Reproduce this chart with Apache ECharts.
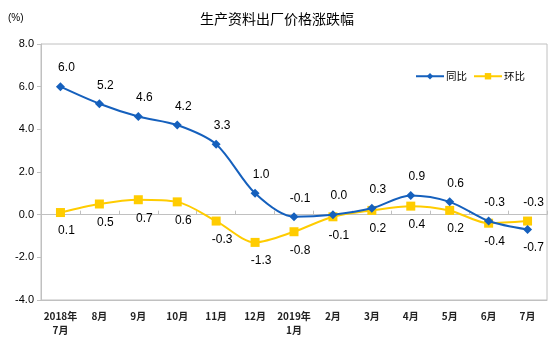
<!DOCTYPE html>
<html>
<head>
<meta charset="utf-8">
<script src="https://cdn.jsdelivr.net/npm/echarts@6/dist/echarts.min.js"></script>
<style>
  html, body { margin: 0; padding: 0; background: #fff; }
  #main { width: 554px; height: 353px; }
</style>
</head>
<body>
<div id="main"></div>
<script>
// 数据
var months = ['2018年\n7月', '8月', '9月', '10月', '11月', '12月', '2019年\n1月', '2月', '3月', '4月', '5月', '6月', '7月'];
var yoy = [6.0, 5.2, 4.6, 4.2, 3.3, 1.0, -0.1, 0.0, 0.3, 0.9, 0.6, -0.3, -0.7];   // 同比
var mom = [0.1, 0.5, 0.7, 0.6, -0.3, -1.3, -0.8, -0.1, 0.2, 0.4, 0.2, -0.4, -0.3]; // 环比

var blue = '#1560bd';
var yellow = '#ffcc00';
var labelFont = 'Arial, "Liberation Sans", sans-serif';
var cjkFont = '"Noto Sans CJK SC", sans-serif';

// 数值大的标签在上, 小的在下
function withLabels(vals, other) {
    return vals.map(function (v, i) {
        return {
            value: v,
            label: { position: v >= other[i] ? 'top' : 'bottom' }
        };
    });
}

var myChart = echarts.init(document.getElementById('main'));

var option = {
    backgroundColor: '#fff',
    animation: false,
    title: {
        text: '生产资料出厂价格涨跌幅',
        left: 'center',
        top: 7,
        textStyle: { fontFamily: cjkFont, fontSize: 14, fontWeight: 'normal', color: '#000' }
    },
    graphic: [{
        type: 'text',
        left: 8,
        top: 13,
        style: { text: '(%)', fill: '#000', font: '10px ' + labelFont }
    }],
    legend: {
        right: 24,
        top: 66,
        itemWidth: 28,
        itemHeight: 8,
        itemGap: 6,
        textStyle: { fontFamily: cjkFont, fontSize: 10.5, color: '#000', padding: [0, 0, 0, -3] },
        data: ['同比', '环比']
    },
    grid: {
        left: 41, right: 7, top: 44, bottom: 53,
        show: true,
        borderColor: '#c0c0c0',
        borderWidth: 1
    },
    xAxis: [{
        type: 'category',
        data: months,
        axisLine: { onZero: false, lineStyle: { color: '#c0c0c0' } },
        axisTick: { show: false },
        axisLabel: {
            interval: 0,
            margin: 9,
            fontFamily: cjkFont,
            fontSize: 10,
            fontWeight: 'bold',
            lineHeight: 14,
            color: '#222'
        }
    }, {
        type: 'category',
        data: months,
        position: 'bottom',
        axisLine: { onZero: true, lineStyle: { color: '#c0c0c0' } },
        axisTick: { show: true, inside: true, length: 4, interval: 0, lineStyle: { color: '#c0c0c0' } },
        axisLabel: { show: false }
    }],
    yAxis: {
        type: 'value',
        min: -4,
        max: 8,
        interval: 2,
        splitLine: { show: false },
        axisLine: { show: true, lineStyle: { color: '#c0c0c0' } },
        axisTick: { show: true, length: 4, lineStyle: { color: '#c0c0c0' } },
        axisLabel: {
            margin: 7,
            fontFamily: labelFont,
            fontSize: 11,
            color: '#000',
            formatter: function (v) { return v.toFixed(1); }
        }
    },
    series: [{
        name: '同比',
        type: 'line',
        data: withLabels(yoy, mom),
        smooth: 0.3,
        symbol: 'diamond',
        symbolSize: 9,
        itemStyle: { color: blue },
        lineStyle: { color: blue, width: 2 },
        label: {
            show: true,
            distance: 8,
            offset: [6, 0],
            fontFamily: labelFont,
            fontSize: 12,
            color: '#000',
            formatter: function (p) { return p.value.toFixed(1); }
        },
        z: 3
    }, {
        name: '环比',
        type: 'line',
        data: withLabels(mom, yoy),
        smooth: 0.3,
        symbol: 'rect',
        symbolSize: 9,
        itemStyle: { color: yellow },
        lineStyle: { color: yellow, width: 2 },
        label: {
            show: true,
            distance: 8,
            offset: [6, 0],
            fontFamily: labelFont,
            fontSize: 12,
            color: '#000',
            formatter: function (p) { return p.value.toFixed(1); }
        },
        z: 2
    }]
};

myChart.setOption(option);
</script>
</body>
</html>
